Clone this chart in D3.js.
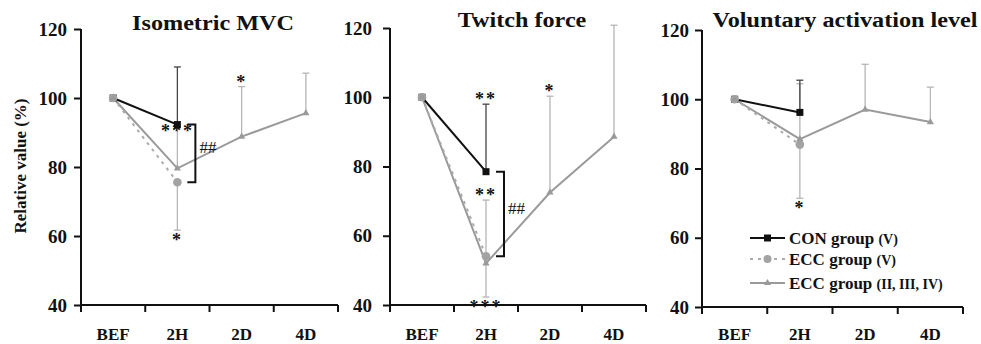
<!DOCTYPE html>
<html>
<head>
<meta charset="utf-8">
<script src="https://cdn.jsdelivr.net/npm/d3@7"></script>
<style>
  html, body { margin: 0; padding: 0; background: #fff; }
  svg { display: block; }
  text { font-family: "Liberation Serif", "Times New Roman", serif; fill: #111; }
</style>
</head>
<body>
<svg id="chart" width="981" height="344"></svg>
<script>
// ---- data ----
const categories = ["BEF", "2H", "2D", "4D"];
const panelTitles = ["Isometric MVC", "Twitch force", "Voluntary activation level"];
const yTicks = [40, 60, 80, 100, 120];

// group means (% of baseline), one row per panel
const conMean    = [[100, 92.3], [100, 78.5], [100, 96.2]];
const eccVMean   = [[100, 75.6], [100, 54.1], [100, 86.9]];
const ecc234Mean = [[100, 79.6, 88.8, 95.6], [100, 52.0, 72.5, 88.6], [100, 88.5, 97.0, 93.4]];

// one-sided SD bars: value where each bar ends (null = no bar)
const conErr    = [[null, 109.0], [null, 98.0], [null, 105.5]];
const eccVErr   = [[null, 61.7], [null, 70.3], [null, 71.4]];
const ecc234Err = [[null, 91.5, 103.3, 107.2], [null, 42.3, 100.3, 120.8], [null, 104.5, 110.1, 103.5]];

// significance marks vs. BEF
const starPanel = [0, 0, 0, 1, 1, 1, 1, 2];
const starCat   = ["2H", "2H", "2D", "2H", "2H", "2H", "2D", "2H"];
const starText  = ["***", "*", "*", "**", "**", "***", "*", "*"];
const starValue = [92.3, 61.7, 103.3, 98.0, 70.3, 42.3, 100.3, 71.4];
const starSide  = ["beside", "below", "above", "above", "above", "below", "above", "below"];

// between-group difference at 2H
const diffPanel = [0, 1];
const diffFrom  = [92.3, 78.5];
const diffTo    = [75.6, 54.1];
const diffText  = ["##", "##"];

const legendMain = ["CON group", "ECC group", "ECC group"];
const legendSub  = ["(V)", "(V)", "(II, III, IV)"];

// ---- drawing ----
const FONT = "'Liberation Serif', 'Times New Roman', serif";
const svg = d3.select("#chart");
const panels = [
  { x0: 81,  x1: 338, yTop: 29, yBot: 305, labelGap: 12 },
  { x0: 390, x1: 646, yTop: 28, yBot: 305, labelGap: 16 },
  { x0: 702, x1: 963, yTop: 30, yBot: 307, labelGap: 11 }
];

const BLACK = "#111";
const GREY_LINE = "#9a9a9a";
const GREY_DASH = "#ababab";
const GREY_MARK = "#a3a3a3";
const GREY_ERR = "#b5b5b5";
const CON_ERR = "#444";

const titleCx = [213, 522, 845];
const titleBase = [30, 27, 27];

function stretchedText(g, x, y, txt, sx, anchor) {
  return g.append("text")
    .attr("transform", `translate(${x},${y}) scale(${sx},1)`)
    .attr("text-anchor", anchor)
    .style("font-family", FONT)
    .text(txt);
}

panels.forEach((p, i) => {
  const g = svg.append("g");
  const x = d3.scaleBand().domain(categories).range([p.x0, p.x1]);
  const y = d3.scaleLinear().domain([40, 120]).range([p.yBot, p.yTop]);
  const cx = c => x(c) + x.bandwidth() / 2;

  // y axis
  const yAxis = g.append("g").attr("transform", `translate(${p.x0},0)`)
    .call(d3.axisLeft(y).tickValues(yTicks).tickSize(7).tickPadding(p.labelGap - 7 + 2));
  yAxis.attr("font-family", null).attr("font-size", null);
  yAxis.select(".domain").attr("stroke", BLACK).attr("stroke-width", 2).attr("d", `M0,${p.yTop}V${p.yBot}`);
  yAxis.selectAll(".tick line").attr("stroke", BLACK).attr("stroke-width", 2);
  yAxis.selectAll(".tick text")
    .style("font-family", FONT)
    .attr("font-size", 19).attr("font-weight", "bold").attr("fill", BLACK);

  // x axis: ticks at category boundaries
  const xAxisG = g.append("g").attr("transform", `translate(0,${p.yBot})`);
  xAxisG.append("line").attr("x1", p.x0 - 1).attr("x2", p.x1).attr("stroke", BLACK).attr("stroke-width", 2);
  const bounds = categories.map(c => x(c)).concat([x(categories[categories.length - 1]) + x.bandwidth()]);
  xAxisG.selectAll("line.b").data(bounds).enter().append("line").attr("class", "b")
    .attr("x1", d => d).attr("x2", d => d).attr("y1", 0).attr("y2", 7)
    .attr("stroke", BLACK).attr("stroke-width", 2);
  categories.forEach(c => {
    stretchedText(xAxisG, cx(c), 340 - p.yBot, c, 1.0, "middle")
      .attr("font-size", 17).attr("font-weight", "bold");
  });

  // title
  stretchedText(g, titleCx[i], titleBase[i], panelTitles[i], 1.1, "middle")
    .attr("font-size", 22).attr("font-weight", "bold");

  const line = d3.line().x((d, k) => cx(categories[k])).y(d => y(d));

  // error bars
  function errBars(means, ends, color) {
    ends.forEach((e, k) => {
      if (e == null) return;
      const xc = cx(categories[k]);
      g.append("line").attr("x1", xc).attr("x2", xc).attr("y1", y(means[k])).attr("y2", y(e))
        .attr("stroke", color).attr("stroke-width", 1.3);
      g.append("line").attr("x1", xc - 3.5).attr("x2", xc + 3.5).attr("y1", y(e)).attr("y2", y(e))
        .attr("stroke", color).attr("stroke-width", 1.3);
    });
  }
  errBars(eccVMean[i], eccVErr[i], GREY_ERR);
  errBars(ecc234Mean[i], ecc234Err[i], GREY_ERR);
  errBars(conMean[i], conErr[i], CON_ERR);

  // ECC group (II, III, IV)
  g.append("path").attr("d", line(ecc234Mean[i])).attr("fill", "none")
    .attr("stroke", GREY_LINE).attr("stroke-width", 2);
  // ECC group (V), dashed
  g.append("path").attr("d", line(eccVMean[i])).attr("fill", "none")
    .attr("stroke", GREY_DASH).attr("stroke-width", 2).attr("stroke-dasharray", "3,5");
  // CON group
  g.append("path").attr("d", line(conMean[i])).attr("fill", "none")
    .attr("stroke", BLACK).attr("stroke-width", 2);

  // markers
  const sq = 7;
  conMean[i].forEach((v, k) => {
    g.append("rect").attr("x", cx(categories[k]) - sq / 2).attr("y", y(v) - sq / 2)
      .attr("width", sq).attr("height", sq).attr("fill", BLACK);
  });
  eccVMean[i].forEach((v, k) => {
    g.append("circle").attr("cx", cx(categories[k])).attr("cy", y(v)).attr("r", 4.3).attr("fill", GREY_MARK);
  });
  const tri = d3.symbol().type(d3.symbolTriangle).size(22);
  ecc234Mean[i].forEach((v, k) => {
    g.append("path").attr("d", tri()).attr("transform", `translate(${cx(categories[k])},${y(v)})`)
      .attr("fill", GREY_LINE);
  });

  // significance stars
  const starShift = { above: 1, beside: 12, below: 16 };
  starPanel.forEach((pp, s) => {
    if (pp !== i) return;
    const base = y(starValue[s]) + starShift[starSide[s]];
    g.append("text").attr("x", cx(starCat[s])).attr("y", base)
      .attr("text-anchor", "middle").attr("font-size", 18).attr("font-weight", "bold")
      .attr("letter-spacing", 2)
      .style("font-family", FONT)
      .text(starText[s]);
  });

  // group-difference bracket
  diffPanel.forEach((pp, s) => {
    if (pp !== i) return;
    const bx = cx("2H") + 18;
    const y1 = y(diffFrom[s]), y2 = y(diffTo[s]);
    g.append("path").attr("d", `M${bx - 8},${y1}H${bx}V${y2}H${bx - 8}`)
      .attr("fill", "none").attr("stroke", BLACK).attr("stroke-width", 2);
    g.append("text").attr("x", bx + 4).attr("y", (y1 + y2) / 2)
      .attr("font-size", 17).style("font-family", FONT).text(diffText[s]);
  });
});

// y-axis title
svg.append("text")
  .attr("transform", "translate(26,166) rotate(-90)")
  .attr("text-anchor", "middle").attr("font-size", 17).attr("font-weight", "bold")
  .style("font-family", FONT)
  .text("Relative value (%)");

// legend
const legendRowY = [238, 259, 283];
const lg = svg.append("g");
legendMain.forEach((t, k) => {
  const yy = legendRowY[k];
  const l = lg.append("line").attr("x1", 750).attr("x2", 785).attr("y1", yy).attr("y2", yy).attr("stroke-width", 2);
  if (k === 0) {
    l.attr("stroke", BLACK);
    lg.append("rect").attr("x", 764).attr("y", yy - 3.5).attr("width", 7).attr("height", 7).attr("fill", BLACK);
  } else if (k === 1) {
    l.attr("stroke", GREY_DASH).attr("stroke-dasharray", "3,5");
    lg.append("circle").attr("cx", 767.5).attr("cy", yy).attr("r", 4).attr("fill", GREY_MARK);
  } else {
    l.attr("stroke", GREY_LINE);
    lg.append("path").attr("d", d3.symbol().type(d3.symbolTriangle).size(22)())
      .attr("transform", `translate(767.5,${yy})`).attr("fill", GREY_LINE);
  }
  const txt = lg.append("text").attr("x", 789).attr("y", yy + 6).attr("font-weight", "bold")
    .style("font-family", FONT);
  txt.append("tspan").attr("font-size", 17).text(t + " ");
  txt.append("tspan").attr("font-size", 14).text(legendSub[k]);
});
</script>
</body>
</html>
